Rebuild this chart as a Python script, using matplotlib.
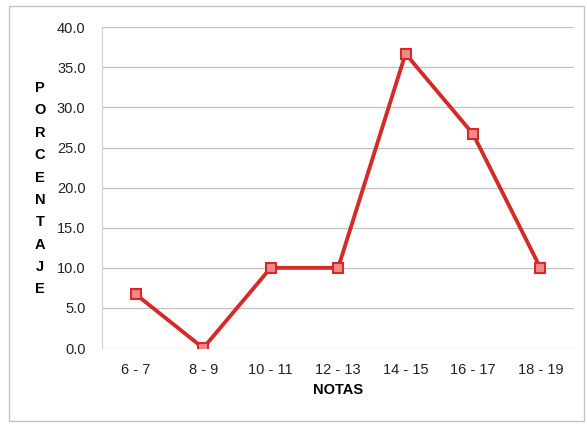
import matplotlib.pyplot as plt

plt.rcParams['font.family'] = ['Liberation Sans', 'DejaVu Sans']

notas = ["6 - 7", "8 - 9", "10 - 11", "12 - 13", "14 - 15", "16 - 17", "18 - 19"]
porcentaje = [6.7, 0.0, 10.0, 10.0, 36.7, 26.7, 10.0]
yticks = [0, 5, 10, 15, 20, 25, 30, 35, 40]

fig = plt.figure(figsize=(5.87, 4.25), dpi=100)
ax = fig.add_axes([0.174, 0.181, 0.804, 0.755])

x = list(range(len(notas)))
ax.plot(x, porcentaje, 's-', color='#d42a2a', linewidth=2.8, markersize=7,
        markerfacecolor='#f08a8a', markeredgecolor='#d42a2a', markeredgewidth=1.5,
        zorder=3)

ax.set_xlim(-0.5, len(notas) - 0.5)
ax.set_ylim(0, 40)
ax.set_yticks(yticks)
ax.set_yticklabels([f"{v:.1f}" for v in yticks], fontsize=10.5, color='#222222')
ax.set_xticks(x)
ax.set_xticklabels(notas, fontsize=10.5, color='#222222')
ax.tick_params(axis='x', length=0, pad=11)
ax.tick_params(axis='y', length=0, pad=12)
ax.grid(axis='y', color='#c0c0c0', linewidth=0.9)
ax.set_axisbelow(True)
for s in ['top', 'right', 'bottom']:
    ax.spines[s].set_visible(False)
ax.spines['left'].set_color('#d0d0d0')

ax.set_xlabel("NOTAS", fontsize=10.5, fontweight='bold', labelpad=4)
fig.text(0.068, 0.556, "\n".join("PORCENTAJE"), fontsize=10.5, fontweight='bold',
         ha='center', va='center', linespacing=1.76)

# outer frame
fig.patches.append(plt.Rectangle((0.015, 0.01), 0.98, 0.975, transform=fig.transFigure,
                                 fill=False, edgecolor='#c4c4c4', linewidth=1))

fig.savefig("out.png", dpi=100)
